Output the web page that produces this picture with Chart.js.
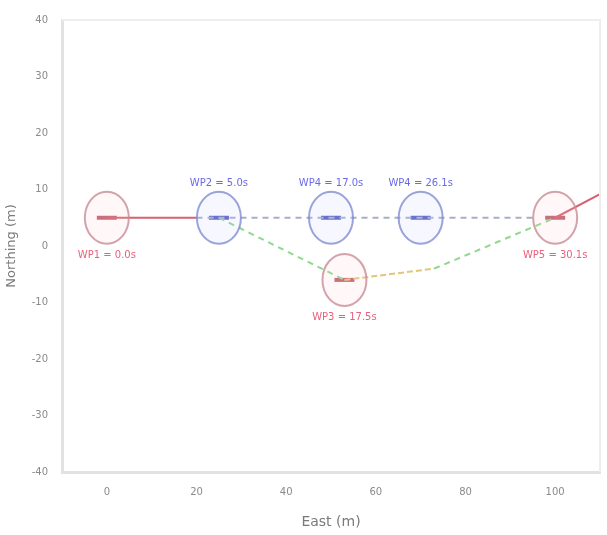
<!DOCTYPE html>
<html>
<head>
<meta charset="utf-8">
<script src="https://cdn.jsdelivr.net/npm/chart.js@4.4.1/dist/chart.umd.min.js"></script>
<style>
  html, body { margin: 0; padding: 0; background: #fff; }
  #wrap { width: 607px; height: 535px; }
</style>
</head>
<body>
<div id="wrap"><canvas id="c" width="607" height="535"></canvas></div>
<script>
// waypoints (East, North)
const redPts = [{x: 0, y: 5}, {x: 53, y: -6}, {x: 100, y: 5}];
const redLabels = ['WP1 = 0.0s', 'WP3 = 17.5s', 'WP5 = 30.1s'];
const bluePts = [{x: 25, y: 5}, {x: 50, y: 5}, {x: 70, y: 5}];
const blueLabels = ['WP2 = 5.0s', 'WP4 = 17.0s', 'WP4 = 26.1s'];

// path segments
const redPath1 = [{x: 0, y: 5}, {x: 20, y: 5}];
const greyPath = [{x: 20, y: 5}, {x: 95, y: 5}];
const greenPath1 = [{x: 25, y: 5}, {x: 53, y: -6}];
const yellowPath = [{x: 53, y: -6}, {x: 73, y: -4}];
const greenPath2 = [{x: 73, y: -4}, {x: 100, y: 5}];
const redPath2 = [{x: 100, y: 5}, {x: 112, y: 10}];

const xTicks = [0, 20, 40, 60, 80, 100];
const yTicks = [40, 30, 20, 10, 0, -10, -20, -30, -40];

const ellipses = {
  id: 'ellipses',
  afterDatasetsDraw(chart) {
    const {ctx, scales: {x, y}} = chart;
    const draw = (pts, stroke, fill) => {
      pts.forEach(p => {
        ctx.save();
        ctx.beginPath();
        ctx.ellipse(x.getPixelForValue(p.x), y.getPixelForValue(p.y), 22, 26, 0, 0, Math.PI * 2);
        ctx.fillStyle = fill;
        ctx.fill();
        ctx.lineWidth = 2;
        ctx.strokeStyle = stroke;
        ctx.stroke();
        ctx.restore();
      });
    };
    draw(redPts, 'rgba(200,140,150,0.8)', 'rgba(255,200,210,0.15)');
    draw(bluePts, 'rgba(130,140,210,0.8)', 'rgba(200,205,255,0.15)');
  }
};

const labels = {
  id: 'labels',
  afterDraw(chart) {
    const {ctx, scales: {x, y}} = chart;
    ctx.save();
    ctx.font = '10px "DejaVu Sans"';
    ctx.textAlign = 'center';
    ctx.textBaseline = 'middle';
    ctx.fillStyle = '#e8607a';
    redPts.forEach((p, i) => ctx.fillText(redLabels[i], x.getPixelForValue(p.x), y.getPixelForValue(p.y) + 38));
    ctx.fillStyle = '#6a6ae8';
    bluePts.forEach((p, i) => ctx.fillText(blueLabels[i], x.getPixelForValue(p.x), y.getPixelForValue(p.y) - 34));
    ctx.restore();
  }
};

const seg = (data, color, dash) => ({
  data: data, borderColor: color, borderWidth: 2, borderDash: dash || [],
  pointRadius: 0, showLine: true, fill: false
});

new Chart(document.getElementById('c'), {
  type: 'scatter',
  data: {
    datasets: [
      seg(redPath1, '#d86070'),
      seg(greyPath, '#a8aec8', [6, 5]),
      seg(greenPath1, '#8fd88f', [6, 5]),
      seg(yellowPath, '#e0c878', [6, 3]),
      seg(greenPath2, '#8fd88f', [6, 5]),
      seg(redPath2, '#d86070'),
      {
        data: redPts, pointStyle: 'line', pointRadius: 10, borderWidth: 4,
        borderColor: '#c06070', backgroundColor: '#c06070'
      },
      {
        data: bluePts, pointStyle: 'line', pointRadius: 10, borderWidth: 4,
        borderColor: '#5a60c8', backgroundColor: '#5a60c8'
      }
    ]
  },
  options: {
    responsive: false,
    animation: false,
    layout: {autoPadding: false, padding: {top: 12, right: 7, bottom: 0, left: 0}},
    plugins: {legend: {display: false}, tooltip: {enabled: false}},
    scales: {
      x: {
        type: 'linear', min: -10, max: 110,
        afterBuildTicks(s) { s.ticks = xTicks.map(v => ({value: v})); },
        afterFit(s) { s.height = 63; s.paddingRight = 0; s.paddingLeft = 0; },
        grid: {display: false, drawTicks: false},
        border: {color: '#e2e2e2', width: 3},
        ticks: {color: '#8a8a8a', font: {size: 10, family: 'DejaVu Sans'}, padding: 14},
        title: {display: true, text: 'East (m)', color: '#7a7a7a', font: {size: 14, family: 'DejaVu Sans'}, padding: {top: 4}}
      },
      y: {
        type: 'linear', min: -40, max: 40,
        afterBuildTicks(s) { s.ticks = yTicks.map(v => ({value: v})); },
        afterFit(s) { s.width = 62; },
        grid: {display: false, drawTicks: false},
        border: {color: '#e2e2e2', width: 3},
        ticks: {color: '#8a8a8a', font: {size: 10, family: 'DejaVu Sans'}, padding: 14},
        title: {display: true, text: 'Northing (m)', color: '#7a7a7a', font: {size: 13, family: 'DejaVu Sans'}, padding: {bottom: 0}}
      }
    }
  },
  plugins: [ellipses, labels, {
    id: 'frame',
    afterDraw(chart) {
      const {ctx, chartArea: a} = chart;
      ctx.save();
      ctx.strokeStyle = '#eeeeee';
      ctx.lineWidth = 2;
      ctx.beginPath();
      ctx.moveTo(a.left, a.top); ctx.lineTo(a.right, a.top); ctx.lineTo(a.right, a.bottom);
      ctx.stroke();
      ctx.restore();
    }
  }]
});
</script>
</body>
</html>
